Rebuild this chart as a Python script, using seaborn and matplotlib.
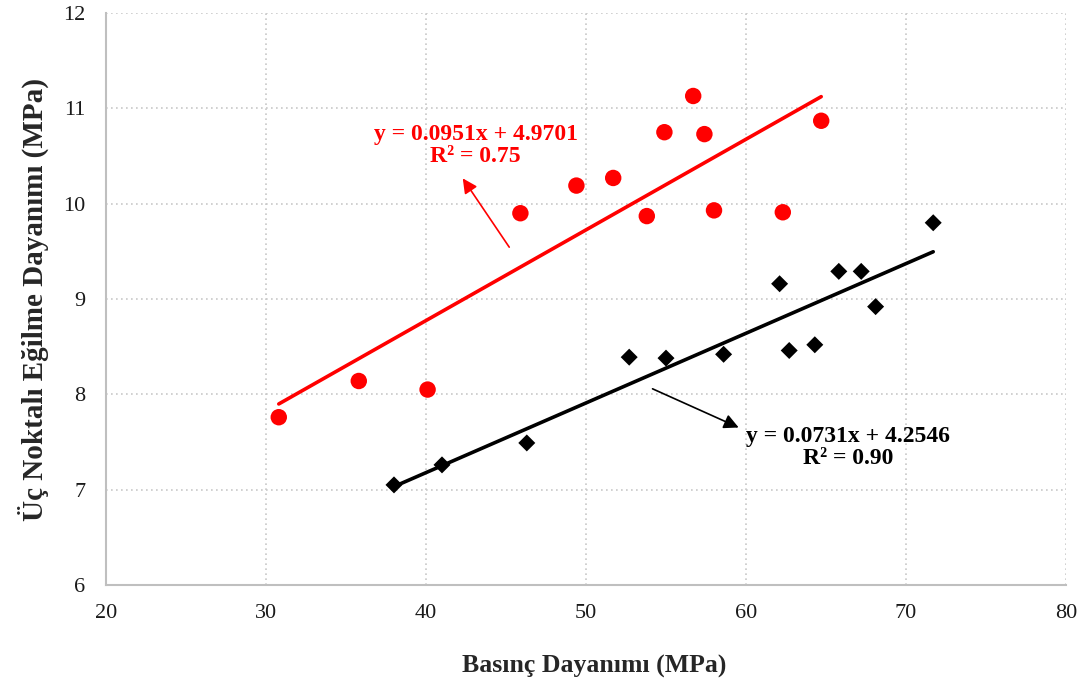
import numpy as np
import pandas as pd
import seaborn as sns
import matplotlib.pyplot as plt

# okunan değerler (grafikten)
red_x = [30.8, 35.8, 40.1, 45.9, 49.4, 51.7, 53.8, 54.9, 56.7, 57.4, 58.0, 62.3, 64.7]
red_y = [7.76, 8.14, 8.05, 9.90, 10.19, 10.27, 9.87, 10.75, 11.13, 10.73, 9.93, 9.91, 10.87]

black_x = [38.0, 41.0, 46.3, 52.7, 55.0, 58.6, 62.1, 62.7, 64.3, 65.8, 67.2, 68.1, 71.7]
black_y = [7.05, 7.26, 7.49, 8.39, 8.38, 8.42, 9.16, 8.46, 8.52, 9.29, 9.29, 8.92, 9.80]

red_fit = (0.0951, 4.9701, 0.75)
black_fit = (0.0731, 4.2546, 0.90)

sns.set_style("white")
plt.rcParams['font.family'] = ['Liberation Serif', 'DejaVu Serif']

fig = plt.figure(figsize=(10.88, 6.87), dpi=100)
ax = fig.add_axes([0.0974, 0.1485, 0.8824, 0.8325])

df_red = pd.DataFrame({"x": red_x, "y": red_y})
df_black = pd.DataFrame({"x": black_x, "y": black_y})

# trend çizgileri
for df, (m, b, r2), col in [(df_red, red_fit, "#ff0000"), (df_black, black_fit, "black")]:
    lx = np.array([df.x.min(), df.x.max()])
    sns.lineplot(x=lx, y=m * lx + b, color=col, linewidth=2.6, ax=ax, zorder=2)

sns.scatterplot(data=df_red, x="x", y="y", color="#ff0000", marker="o", s=140,
                edgecolor="none", ax=ax, zorder=3)
sns.scatterplot(data=df_black, x="x", y="y", color="black", marker="D", s=75,
                edgecolor="none", ax=ax, zorder=3)

ax.set_xlim(20, 80)
ax.set_ylim(6, 12)
ax.set_xticks(range(20, 81, 10))
ax.set_yticks(range(6, 13))
ax.grid(True, linestyle=(0, (1, 2)), color="#c8c8c8", linewidth=1.2)
ax.set_axisbelow(True)

for s in ["top", "right"]:
    ax.spines[s].set_visible(False)
for s in ["left", "bottom"]:
    ax.spines[s].set_color("#bfbfbf")
    ax.spines[s].set_linewidth(1.5)
ax.tick_params(axis="both", direction="out", length=5, width=1.2, color="#bfbfbf",
               labelsize=16, labelcolor="#1a1a1a")
ax.tick_params(axis="y", pad=10)
ax.tick_params(axis="x", pad=9)

ax.set_xlabel("Basınç Dayanımı (MPa)", fontsize=18.5, fontweight="bold", labelpad=23)
ax.xaxis.label.set_x(0.509)
ax.set_ylabel("Üç Noktalı Eğilme Dayanımı (MPa)", fontsize=21, fontweight="bold", labelpad=10)

# denklemler
ax.annotate("", xy=(42.2, 10.29), xytext=(45.3, 9.52), textcoords="data",
            arrowprops=dict(arrowstyle="-|>", color="#ff0000", lw=1.2, mutation_scale=22))
ax.text(43.1, 10.61, f"y = {red_fit[0]}x + {red_fit[1]}\nR² = {red_fit[2]:.2f}",
        fontsize=17, fontweight="bold", color="#ff0000", ha="center", va="center",
        linespacing=1.05)

ax.annotate("", xy=(59.7, 7.64), xytext=(54.0, 8.07), textcoords="data",
            arrowprops=dict(arrowstyle="-|>", color="black", lw=1.2, mutation_scale=22))
ax.text(66.4, 7.44, f"y = {black_fit[0]}x + {black_fit[1]}\nR² = {black_fit[2]:.2f}",
        fontsize=17, fontweight="bold", color="black", ha="center", va="center",
        linespacing=1.08)

fig.savefig("out.png", dpi=100)
